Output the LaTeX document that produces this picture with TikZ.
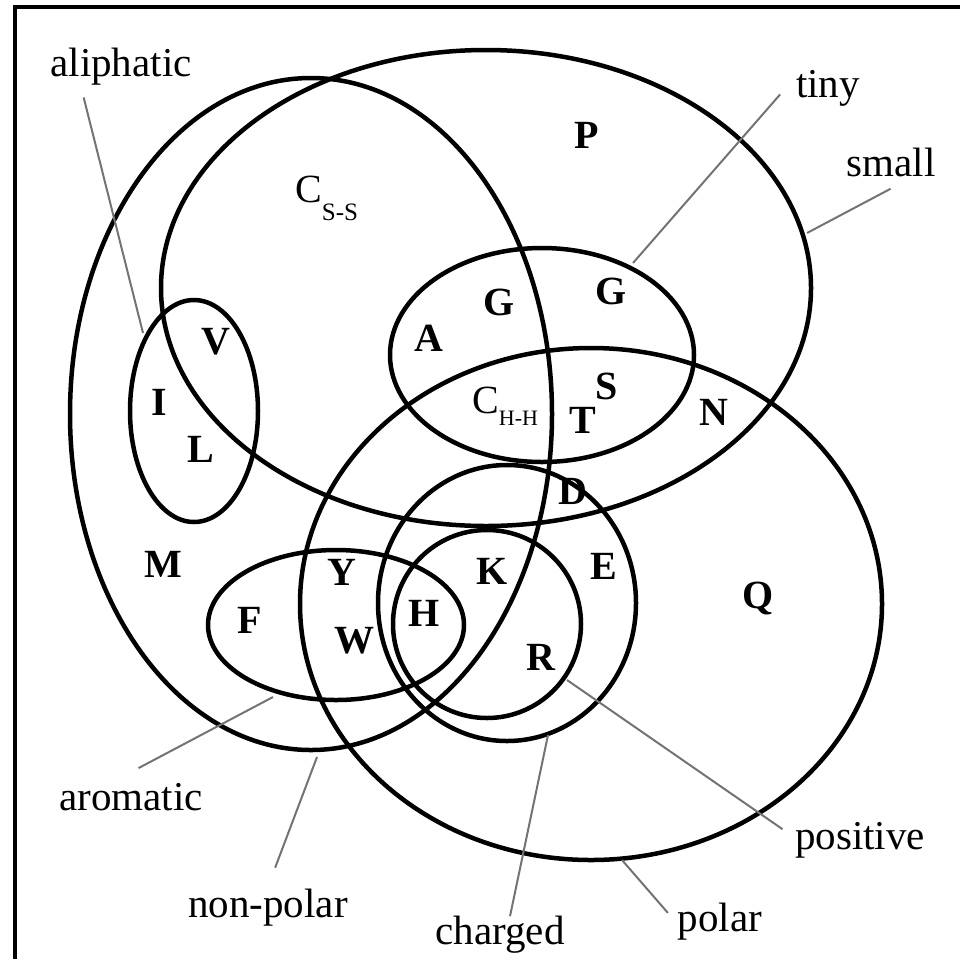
\documentclass[tikz,border=0pt]{standalone}
\usepackage{fontspec}
\setmainfont{Liberation Serif}
\usepackage{tikz}

\begin{document}
\begin{tikzpicture}[x=1pt,y=-1pt,
    venn/.style={line width=4.5pt},
    lead/.style={line width=2pt,black!55},
    aa/.style={inner sep=0pt,font=\fontsize{40}{40}\selectfont\bfseries},
    setlabel/.style={inner sep=0pt,font=\fontsize{41}{41}\selectfont}]
    \useasboundingbox (0,0) rectangle (960,959);
    \draw[line width=4pt] (15,959) -- (15,7) -- (960,7);
    \draw[venn] (486,288) ellipse [x radius=325, y radius=238];
    \draw[venn] (311,414) ellipse [x radius=241, y radius=336];
    \draw[venn] (591,604) ellipse [x radius=291, y radius=256];
    \draw[venn] (542,355) ellipse [x radius=152, y radius=107];
    \draw[venn] (194,411) ellipse [x radius=64, y radius=111];
    \draw[venn] (336,625) ellipse [x radius=128, y radius=75];
    \draw[venn] (507,603) ellipse [x radius=129, y radius=138];
    \draw[venn] (487,624) ellipse [x radius=94, y radius=94];
    \foreach \n/\t/\x/\y in {pro/P/587/135, glya/G/499/302, glyb/G/611/291,
        ala/A/429/338, val/V/216/342, ile/I/159/402, leu/L/201/449,
        met/M/163/564, tyr/Y/342/572, phe/F/250/620, trp/W/354/641,
        his/H/424/613, lys/K/492/571, glu/E/604/566, arg/R/541/657,
        asp/D/573/491, asn/N/714/412, ser/S/607/386, thr/T/583/420,
        gln/Q/758/598}
    \node[aa] (\n) at (\x,\y) {\t};
    \node[aa,anchor=base west,font=\fontsize{40}{40}\selectfont] (css) at (295,202)
        {C\raisebox{-18pt}{\fontsize{25}{25}\selectfont S-S}};
    \node[aa,anchor=base west,font=\fontsize{40}{40}\selectfont] (chh) at (472,413)
        {C\raisebox{-12pt}{\fontsize{22}{22}\selectfont H-H}};
    \node[setlabel] (aliphatic) at (121,67) {aliphatic};
    \node[setlabel] (tiny) at (828,88) {tiny};
    \node[setlabel] (small) at (891,162) {small};
    \node[setlabel] (aromatic) at (131,797) {aromatic};
    \node[setlabel] (nonpolar) at (268,908) {non-polar};
    \node[setlabel] (charged) at (500,935) {charged};
    \node[setlabel] (polar) at (720,922) {polar};
    \node[setlabel] (positive) at (860,840) {positive};
    \coordinate (aliphatic-end) at (143,333);
    \coordinate (tiny-end) at (633,263);
    \coordinate (small-end) at (807,233);
    \coordinate (aromatic-end) at (273,697);
    \coordinate (nonpolar-end) at (317,757);
    \coordinate (charged-end) at (548,735);
    \coordinate (polar-end) at (622,860);
    \coordinate (positive-end) at (567,680);
    \draw[lead,shorten <=12pt] (aliphatic.205) -- (aliphatic-end);
    \draw[lead,shorten <=24pt] (tiny.160) -- (tiny-end);
    \draw[lead,shorten <=26pt] (small.327) -- (small-end);
    \draw[lead,shorten <=32pt] (aromatic.146) -- (aromatic-end);
    \draw[lead,shorten <=23pt] (nonpolar.93) -- (nonpolar-end);
    \draw[lead] (charged.62) -- (charged-end);
    \draw[lead,shorten <=15pt] (polar.183) -- (polar-end);
    \draw[lead,shorten <=15pt] (positive.178) -- (positive-end);
\end{tikzpicture}
\end{document}
